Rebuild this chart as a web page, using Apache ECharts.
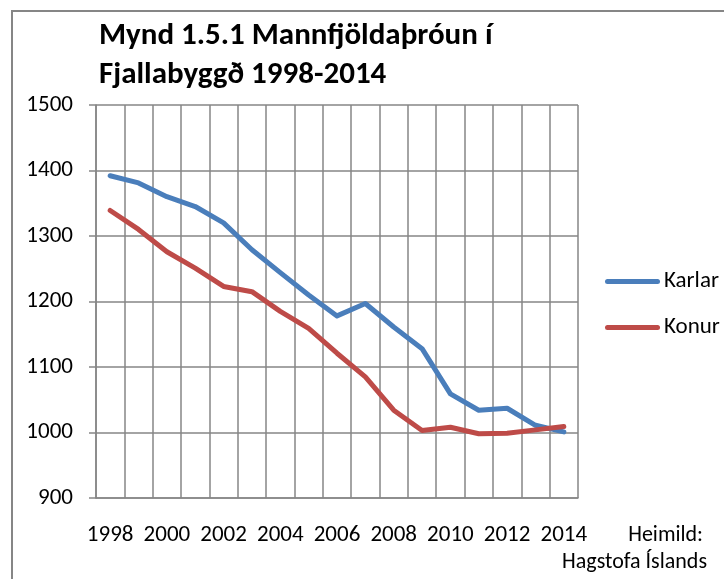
<!DOCTYPE html>
<html>
<head>
<meta charset="utf-8">
<script src="https://cdn.jsdelivr.net/npm/echarts@6/dist/echarts.min.js"></script>
<style>
  html, body { margin: 0; padding: 0; background: #fff; }
  #chart { width: 724px; height: 579px; }
</style>
</head>
<body>
<div id="chart"></div>
<script>
var years = ["1998", "1999", "2000", "2001", "2002", "2003", "2004", "2005", "2006",
  "2007", "2008", "2009", "2010", "2011", "2012", "2013", "2014"];
var karlar = [1392, 1381, 1360, 1345, 1320, 1279, 1244, 1210, 1178, 1197, 1161, 1128, 1059, 1034, 1037, 1011, 1001];
var konur = [1339, 1310, 1276, 1251, 1223, 1215, 1185, 1159, 1121, 1085, 1034, 1003, 1008, 998, 999, 1004, 1009];
var seriesNames = ["Karlar", "Konur"];
var titleText = "Mynd 1.5.1 Mannfjöldaþróun í\nFjallabyggð 1998-2014";
var sourceLines = ["Heimild:", "Hagstofa Íslands"];

(function() {
  var font = 'Carlito, "Liberation Sans Narrow", "Open Sans", sans-serif';
  var gridColor = "#868686";
  // rounded bar used as legend icon
  var barIcon = "path://M2.5,0H52.5A2.5,2.5,0,0,1,52.5,5H2.5A2.5,2.5,0,0,1,2.5,0Z";
  var myChart = echarts.init(document.getElementById("chart"));

  var option = {
    backgroundColor: "#fff",
    animation: false,
    textStyle: { fontFamily: font },
    title: {
      text: titleText,
      left: 94,
      top: 12,
      textStyle: {
        fontFamily: font,
        fontWeight: "bold",
        fontSize: 31,
        lineHeight: 38.5,
        color: "#000"
      }
    },
    legend: {
      orient: "vertical",
      left: 600,
      top: 265,
      itemWidth: 57,
      itemHeight: 5,
      itemGap: 23,
      textStyle: { fontFamily: font, fontSize: 23, color: "#000", padding: [0, 0, 0, -2] },
      data: [
        { name: seriesNames[0], icon: barIcon },
        { name: seriesNames[1], icon: barIcon }
      ]
    },
    grid: { left: 96, right: 146, top: 105, bottom: 81 },
    xAxis: {
      type: "category",
      data: years,
      boundaryGap: true,
      axisLine: { lineStyle: { color: gridColor, width: 1.5 } },
      axisTick: { interval: 0, length: 7, lineStyle: { color: gridColor, width: 1.5 } },
      axisLabel: { interval: 1, margin: 26, fontSize: 23, color: "#000", fontFamily: font },
      splitLine: { show: true, interval: 0, lineStyle: { color: gridColor, width: 1.5 } }
    },
    yAxis: {
      type: "value",
      min: 900,
      max: 1500,
      interval: 100,
      axisLine: { show: true, lineStyle: { color: gridColor, width: 1.5 } },
      axisTick: { show: true, length: 7, lineStyle: { color: gridColor, width: 1.5 } },
      axisLabel: {
        margin: 23,
        fontSize: 23,
        color: "#000",
        fontFamily: font,
        formatter: function(value) {
          return String(value);
        }
      },
      splitLine: { lineStyle: { color: gridColor, width: 1.5 } }
    },
    series: [
      {
        name: seriesNames[0],
        type: "line",
        data: karlar,
        symbol: "none",
        color: "#4a7ebb",
        lineStyle: { width: 5, color: "#4a7ebb", cap: "round", join: "round" }
      },
      {
        name: seriesNames[1],
        type: "line",
        data: konur,
        symbol: "none",
        color: "#be4b48",
        lineStyle: { width: 5, color: "#be4b48", cap: "round", join: "round" }
      }
    ],
    graphic: [
      {
        type: "rect",
        shape: { x: 12, y: 11, width: 740, height: 600 },
        style: { fill: "none", stroke: gridColor, lineWidth: 2 },
        silent: true
      },
      {
        type: "text",
        right: 21,
        top: 524,
        style: { text: sourceLines[0], font: "22px " + font, fill: "#000" }
      },
      {
        type: "text",
        right: 17,
        top: 551,
        style: { text: sourceLines[1], font: "22px " + font, fill: "#000" }
      }
    ]
  };

  myChart.setOption(option);
})();
</script>
</body>
</html>
